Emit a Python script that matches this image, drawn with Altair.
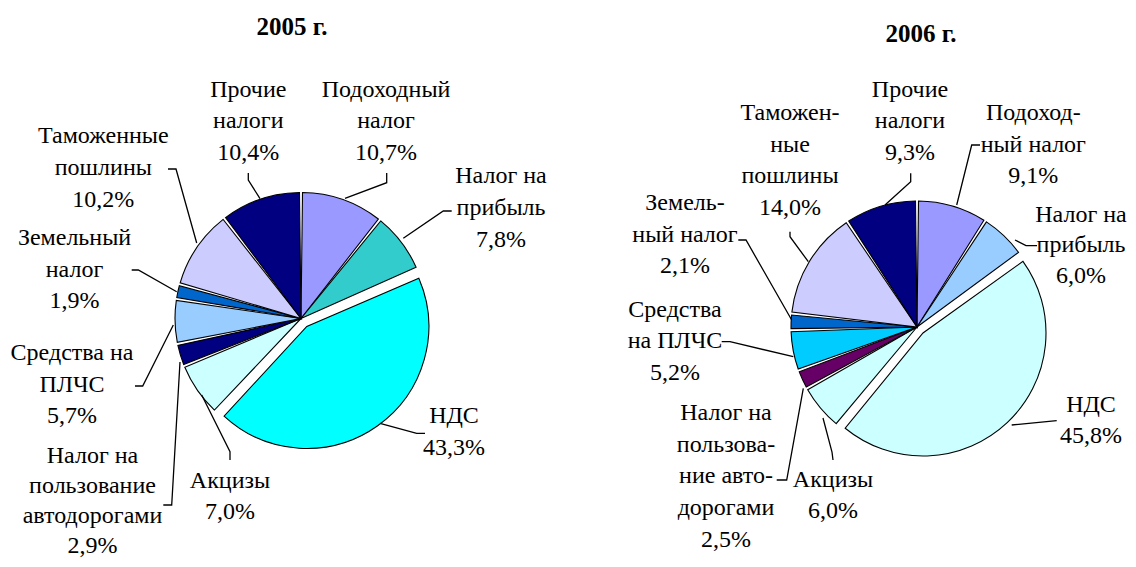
import altair as alt
import pandas as pd

# ---------------- data ----------------
CATEGORIES = ["Подоходный налог", "Налог на прибыль", "НДС", "Акцизы",
              "Налог на пользование автодорогами", "Средства на ПЛЧС",
              "Земельный налог", "Таможенные пошлины", "Прочие налоги"]
VALUES_2005 = [10.7, 7.8, 43.3, 7.0, 2.9, 5.7, 1.9, 10.2, 10.4]
VALUES_2006 = [9.1, 6.0, 45.8, 6.0, 2.5, 5.2, 2.1, 14.0, 9.3]
NAMES_2005 = [["Подоходный", "налог"], ["Налог на", "прибыль"], ["НДС"], ["Акцизы"],
              ["Налог на", "пользование", "автодорогами"], ["Средства на", "ПЛЧС"],
              ["Земельный", "налог"], ["Таможенные", "пошлины"], ["Прочие", "налоги"]]
NAMES_2006 = [["Подоход-", "ный налог"], ["Налог на", "прибыль"], ["НДС"], ["Акцизы"],
              ["Налог на", "пользова-", "ние авто-", "дорогами"], ["Средства", "на ПЛЧС"],
              ["Земель-", "ный налог"], ["Таможен-", "ные", "пошлины"], ["Прочие", "налоги"]]
TITLES = ["2005 г.", "2006 г."]

# ---------------- styles ----------------
COLORS_2005 = ["#9999FF", "#33CCCC", "#00FFFF", "#CCFFFF", "#000080",
               "#99CCFF", "#0066CC", "#CCCCFF", "#000080"]
COLORS_2006 = ["#9999FF", "#99CCFF", "#CCFFFF", "#CCFFFF", "#660066",
               "#00CCFF", "#0066CC", "#CCCCFF", "#000080"]
FONT = "'Liberation Serif', 'Times New Roman', 'DejaVu Serif', serif"
FONT_SIZE = 24
TITLE_SIZE = 25
LINE_H = 31.7
MARGIN = 8
EXPLODED = "НДС"

# ---------------- layout (page pixels) ----------------
PIE_2005 = dict(center=(301, 318.5), r=126, ex_center=(306.8, 326.5), ex_r=122, title=(292, 35))
PIE_2006 = dict(center=(917, 327), r=126, ex_center=(923, 333), ex_r=123, title=(921, 41.7))

# (center x, first baseline y, line spacing)
LABEL_POS_2005 = [(386, 96.7, LINE_H), (501, 183.3, LINE_H), (454, 423.3, LINE_H),
                  (230, 487.7, LINE_H), (92.5, 463, 30.0), (72, 360, LINE_H),
                  (74.5, 245, LINE_H), (103.3, 143.3, LINE_H), (248.3, 96.7, LINE_H)]
LABEL_POS_2006 = [(1033.3, 120, LINE_H), (1081, 221.7, 30.5), (1091, 411.7, LINE_H),
                  (833, 486.7, LINE_H), (726, 420, LINE_H), (675, 316.7, LINE_H),
                  (685, 210, LINE_H), (790, 120, LINE_H), (910, 96.6, LINE_H)]

LEADERS_2005 = [
    [(386.7, 173), (386.7, 182.7), (345, 198.3)],
    [(451.7, 211), (443.3, 211), (403.3, 238.3)],
    [(425, 433.3), (416.7, 433.3), (380, 423.3)],
    [(230, 460), (230, 451.7), (201.7, 395)],
    [(163.3, 505), (171.7, 505), (180, 362)],
    [(135, 386), (142.7, 386), (173.3, 325)],
    [(131.7, 270), (138.3, 270), (176.7, 291.7)],
    [(168, 169), (176, 169), (196.7, 243)],
    [(248.3, 173), (248.3, 180), (260, 198.7)],
]
LEADERS_2006 = [
    [(980, 145), (971.7, 145), (956.7, 205)],
    [(1037, 245.7), (1026, 245.7), (1015, 240)],
    [(1056.7, 420.7), (1011.7, 425)],
    [(833, 460), (832, 452), (823, 418)],
    [(776.7, 480), (786.7, 480), (803.3, 388.3)],
    [(721.7, 341.7), (730, 341.7), (793.3, 356.7)],
    [(738.3, 240), (746, 240), (791.7, 320)],
    [(790, 231.7), (790, 236.7), (808.3, 261.7)],
    [(910.7, 173.3), (910.7, 181.7), (885, 205)],
]


def pct(v):
    return f"{v:.1f}".replace(".", ",") + "%"


def pie(values, colors, geo):
    df = pd.DataFrame({"cat": CATEGORIES, "value": values, "idx": list(range(len(values)))})
    total = sum(values)
    base = alt.Chart(df).transform_window(
        cum="sum(value)", sort=[alt.SortField("idx")], frame=[None, 0]
    ).transform_calculate(start="datum.cum - datum.value")
    enc = dict(
        theta=alt.Theta("start:Q", scale=alt.Scale(domain=[0, total])),
        theta2="cum:Q",
        color=alt.Color("cat:N", scale=alt.Scale(domain=CATEGORIES, range=colors), legend=None),
    )
    cx, cy = geo["center"]
    ex, ey = geo["ex_center"]
    rest = base.transform_filter(alt.datum.cat != EXPLODED).mark_arc(
        radius=geo["r"], padAngle=0.024, stroke="black", strokeWidth=1.1
    ).encode(x=alt.value(cx - MARGIN), y=alt.value(cy - MARGIN), **enc)
    expl = base.transform_filter(alt.datum.cat == EXPLODED).mark_arc(
        radius=geo["ex_r"], stroke="black", strokeWidth=1.1
    ).encode(x=alt.value(ex - MARGIN), y=alt.value(ey - MARGIN), **enc)
    return alt.layer(rest, expl)


def labels(values, names, positions):
    rows = []
    for v, nm, (x, y, lh) in zip(values, names, positions):
        lines = nm + [pct(v)]
        for i, t in enumerate(lines):
            rows.append({"x": x - MARGIN, "y": y - MARGIN + i * lh, "t": t})
    return alt.Chart(pd.DataFrame(rows)).mark_text(
        font=FONT, fontSize=FONT_SIZE, align="center", baseline="alphabetic", color="black"
    ).encode(
        x=alt.X("x:Q", scale=None, axis=None),
        y=alt.Y("y:Q", scale=None, axis=None),
        text="t:N",
    )


def leaders(paths, tag):
    rows = []
    for k, path in enumerate(paths):
        for j, (x, y) in enumerate(path):
            rows.append({"id": f"{tag}{k}", "o": j, "x": x - MARGIN, "y": y - MARGIN})
    return alt.Chart(pd.DataFrame(rows)).mark_line(color="black", strokeWidth=1.3).encode(
        x=alt.X("x:Q", scale=None, axis=None),
        y=alt.Y("y:Q", scale=None, axis=None),
        detail="id:N",
        order="o:Q",
    )


def title(text, pos):
    df = pd.DataFrame({"t": [text], "x": [pos[0] - MARGIN], "y": [pos[1] - MARGIN]})
    return alt.Chart(df).mark_text(
        font=FONT, fontSize=TITLE_SIZE, fontWeight="bold", align="center",
        baseline="alphabetic", color="black"
    ).encode(
        x=alt.X("x:Q", scale=None, axis=None),
        y=alt.Y("y:Q", scale=None, axis=None),
        text="t:N",
    )


chart = alt.layer(
    pie(VALUES_2005, COLORS_2005, PIE_2005),
    pie(VALUES_2006, COLORS_2006, PIE_2006),
    leaders(LEADERS_2005, "a"),
    leaders(LEADERS_2006, "b"),
    labels(VALUES_2005, NAMES_2005, LABEL_POS_2005),
    labels(VALUES_2006, NAMES_2006, LABEL_POS_2006),
    title(TITLES[0], PIE_2005["title"]),
    title(TITLES[1], PIE_2006["title"]),
).resolve_scale(
    theta="independent", color="independent"
).properties(
    width=1120, height=551, padding=0,
    autosize=alt.AutoSizeParams(type="none"),
    background="white",
).configure_view(strokeWidth=0)

chart.save("out.html", embed_options={"renderer": "svg", "actions": False})
